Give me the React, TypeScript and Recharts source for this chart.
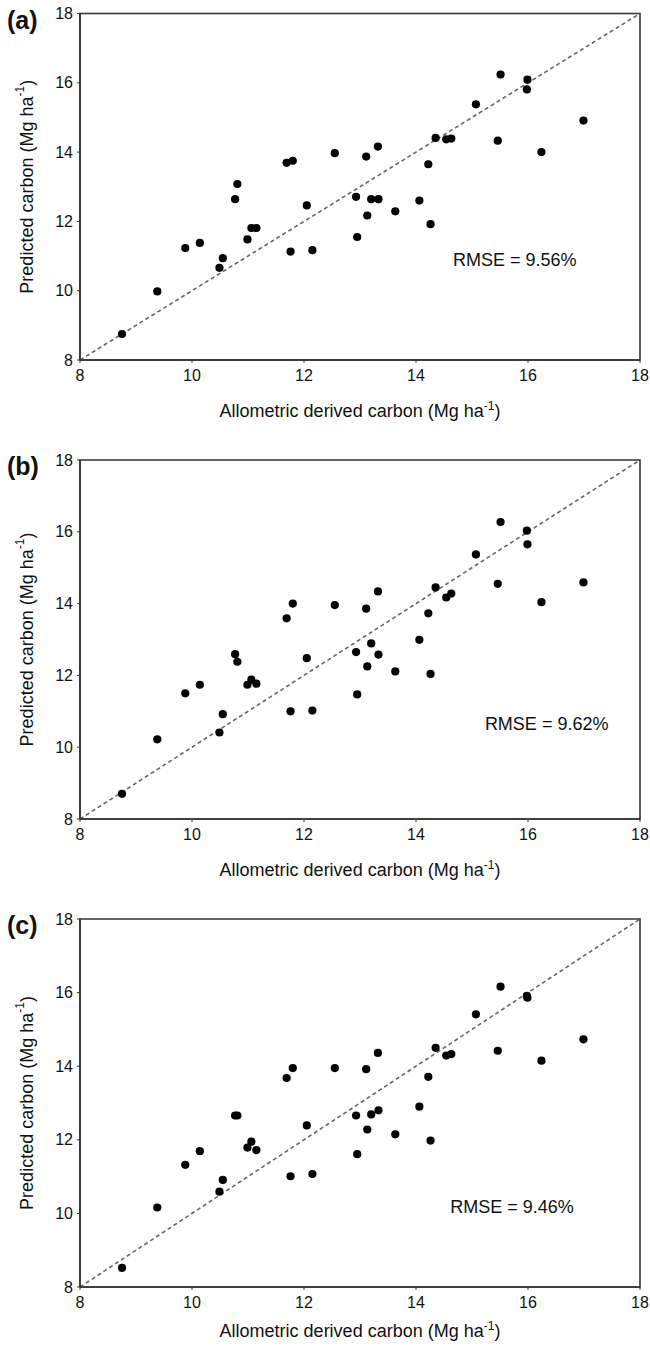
import React from 'react';
import {
  ScatterChart,
  Scatter,
  XAxis,
  YAxis,
  ReferenceLine,
  ReferenceArea,
  ReferenceDot,
  Label,
} from 'recharts';

// Allometric derived carbon (x), shared by all panels
const allometric = [
  8.75, 9.38, 9.88, 10.14, 10.49, 10.55, 10.77, 10.81, 10.99, 11.06, 11.15, 11.69, 11.8, 11.76,
  12.05, 12.15, 12.55, 12.93, 12.95, 13.11, 13.13, 13.2, 13.33, 13.32, 13.63, 14.06, 14.22, 14.26,
  14.35, 14.54, 14.63, 15.07, 15.46, 15.51, 15.98, 15.99, 16.24, 16.99,
];

// Predicted carbon (y) for each panel
const predictedA = [
  8.75, 9.98, 11.23, 11.38, 10.66, 10.94, 12.64, 13.08, 11.48, 11.81, 11.81, 13.69, 13.75, 11.13,
  12.46, 11.17, 13.97, 12.71, 11.55, 13.87, 12.17, 12.64, 12.64, 14.16, 12.29, 12.6, 13.65, 11.92,
  14.41, 14.37, 14.39, 15.38, 14.33, 16.24, 15.81, 16.09, 14.0, 14.91,
];
const predictedB = [
  8.7, 10.22, 11.5, 11.74, 10.41, 10.92, 12.59, 12.38, 11.74, 11.88, 11.77, 13.59, 14.0, 11.0,
  12.48, 11.02, 13.96, 12.65, 11.47, 13.86, 12.25, 12.89, 12.58, 14.34, 12.11, 12.99, 13.73, 12.04,
  14.45, 14.17, 14.28, 15.37, 14.55, 16.27, 16.03, 15.65, 14.04, 14.59,
];
const predictedC = [
  8.52, 10.16, 11.32, 11.69, 10.59, 10.91, 12.66, 12.66, 11.79, 11.95, 11.72, 13.68, 13.95, 11.01,
  12.39, 11.07, 13.95, 12.66, 11.61, 13.92, 12.28, 12.69, 12.8, 14.36, 12.15, 12.9, 13.71, 11.98,
  14.5, 14.29, 14.33, 15.41, 14.42, 16.16, 15.91, 15.86, 14.15, 14.73,
];

const axisTicks = [8, 10, 12, 14, 16, 18];
const axisDomain: [number, number] = [8, 18];
const panelLabels = ['(a)', '(b)', '(c)'];
const rmseLabels = ['RMSE = 9.56%', 'RMSE = 9.62%', 'RMSE = 9.46%'];
const rmseX = [14.66, 15.23, 14.61];
const rmseY = [10.91, 10.67, 10.19];
const xTitle = 'Allometric derived carbon (Mg ha';
const yTitle = 'Predicted carbon (Mg ha';

const FONT = "Arial, 'Liberation Sans', Helvetica, sans-serif";
const AXIS_COLOR = '#333';

const panelLayout = [
  { top: 0, height: 440, marginTop: 13.5, xAxisHeight: 80, titleOffset: 57 },
  { top: 440, height: 450, marginTop: 20, xAxisHeight: 71, titleOffset: 57 },
  { top: 890, height: 462, marginTop: 29, xAxisHeight: 65, titleOffset: 50 },
];

const Dot = (props: any) => {
  const { cx, cy } = props;
  if (cx == null || cy == null) return null;
  return <circle cx={cx} cy={cy} r={4.1} fill="#000" />;
};

const makeXTitle = (offset: number) => (props: any) => {
  const vb = props.viewBox || {};
  const cx = vb.x + vb.width / 2;
  const y = vb.y + offset;
  return (
    <text x={cx} y={y} textAnchor="middle" fontSize={18} fill="#111" fontFamily={FONT}>
      {xTitle}
      <tspan dy={-7} fontSize={12}>-1</tspan>
      <tspan dy={7}>)</tspan>
    </text>
  );
};

const makeYTitle = (panelLabel: string) => (props: any) => {
  const vb = props.viewBox || {};
  const x = 27;
  const cy = vb.y + vb.height / 2;
  return (
    <g>
      <text
        x={x}
        y={cy}
        transform={`rotate(-90, ${x}, ${cy})`}
        textAnchor="middle"
        dominantBaseline="central"
        fontSize={18}
        fill="#111"
        fontFamily={FONT}
      >
        {yTitle}
        <tspan dy={-7} fontSize={12}>-1</tspan>
        <tspan dy={7}>)</tspan>
      </text>
      <text x={7} y={vb.y + 15} fontSize={25} fontWeight="bold" fill="#111" fontFamily={FONT}>
        {panelLabel}
      </text>
    </g>
  );
};

const Panel = ({ idx, values }: { idx: number; values: number[] }) => {
  const layout = panelLayout[idx];
  const data = allometric.map((x, i) => ({ x, y: values[i] }));
  return (
    <div style={{ position: 'absolute', left: 0, top: layout.top }}>
      <ScatterChart
        width={650}
        height={layout.height}
        margin={{ top: layout.marginTop, right: 10, bottom: 0, left: 0 }}
      >
        <XAxis
          type="number"
          dataKey="x"
          domain={axisDomain}
          ticks={axisTicks}
          allowDataOverflow
          height={layout.xAxisHeight}
          axisLine={{ stroke: AXIS_COLOR, strokeWidth: 1.6 }}
          tickLine={{ stroke: AXIS_COLOR }}
          tickSize={3}
          tickMargin={7}
          tick={{ fontSize: 16, fill: '#111', fontFamily: FONT }}
        >
          <Label content={makeXTitle(layout.titleOffset)} />
        </XAxis>
        <YAxis
          type="number"
          dataKey="y"
          domain={axisDomain}
          ticks={axisTicks}
          allowDataOverflow
          width={80}
          axisLine={{ stroke: AXIS_COLOR, strokeWidth: 1.6 }}
          tickLine={{ stroke: AXIS_COLOR }}
          tickSize={3}
          tickMargin={4}
          tick={{ fontSize: 16, fill: '#111', fontFamily: FONT }}
        >
          <Label content={makeYTitle(panelLabels[idx])} />
        </YAxis>
        <ReferenceArea
          x1={axisDomain[0]}
          x2={axisDomain[1]}
          y1={axisDomain[0]}
          y2={axisDomain[1]}
          fill="none"
          fillOpacity={0}
          stroke={AXIS_COLOR}
          strokeWidth={1.6}
        />
        <ReferenceLine
          segment={[
            { x: axisDomain[0], y: axisDomain[0] },
            { x: axisDomain[1], y: axisDomain[1] },
          ]}
          stroke="#666"
          strokeWidth={1.6}
          strokeDasharray="4 3"
        />
        <ReferenceDot
          x={rmseX[idx]}
          y={rmseY[idx]}
          r={0}
          fill="none"
          stroke="none"
          label={{
            value: rmseLabels[idx],
            position: 'right',
            offset: 0,
            fontSize: 18,
            fill: '#111',
            fontFamily: FONT,
          }}
        />
        <Scatter data={data} shape={Dot} isAnimationActive={false} />
      </ScatterChart>
    </div>
  );
};

export default function App() {
  return (
    <div
      style={{
        position: 'absolute',
        left: 0,
        top: 0,
        width: 650,
        height: 1352,
        background: '#fff',
        fontFamily: FONT,
      }}
    >
      <Panel idx={0} values={predictedA} />
      <Panel idx={1} values={predictedB} />
      <Panel idx={2} values={predictedC} />
    </div>
  );
}
